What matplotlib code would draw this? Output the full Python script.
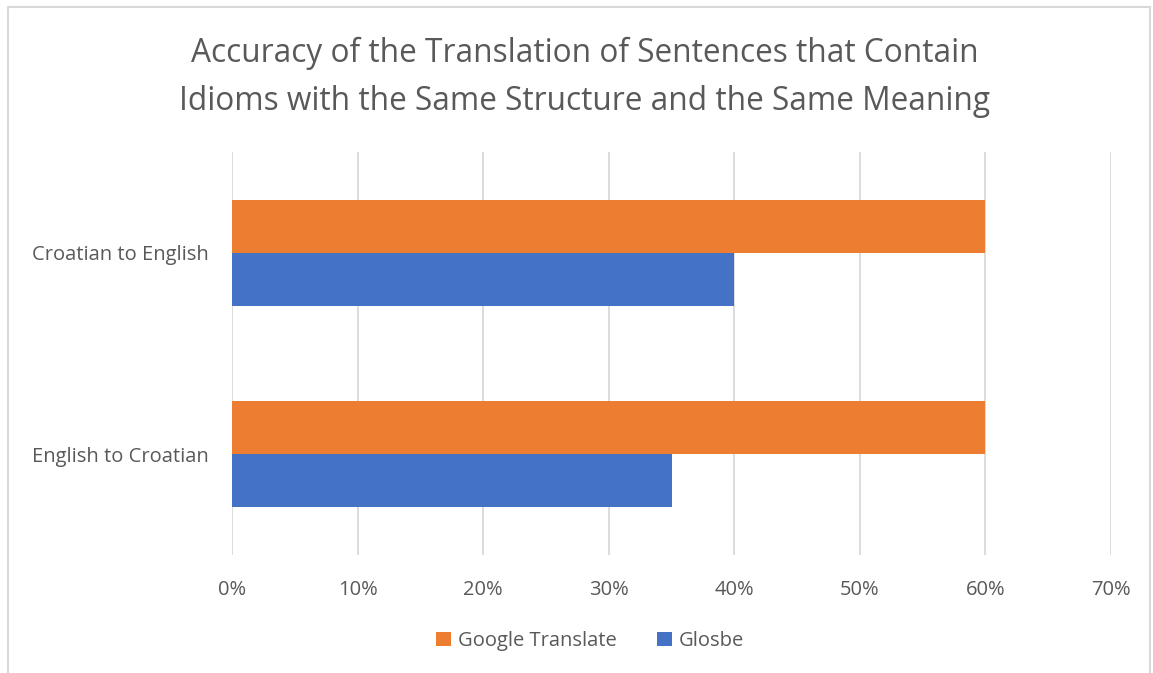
import numpy as np
import matplotlib.pyplot as plt
from matplotlib.patches import Rectangle

categories = ["English to Croatian", "Croatian to English"]
google = [60, 60]
glosbe = [35, 40]
series_names = ["Google Translate", "Glosbe"]

plt.rcParams['font.family'] = ['Open Sans', 'DejaVu Sans']
gray = "#595959"

fig = plt.figure(figsize=(11.53, 6.73), dpi=100)
ax = fig.add_axes([232/1153, 1-555/673, (1111-232)/1153, (555-152)/673])

y = np.arange(len(categories))
h = 0.263
ax.barh(y + h/2, google, height=h, color="#ED7D31", label=series_names[0], zorder=3)
ax.barh(y - h/2, glosbe, height=h, color="#4472C4", label=series_names[1], zorder=3)

ax.set_xlim(0, 70)
ax.set_ylim(-0.5, 1.5)
ax.set_xticks(np.arange(0, 71, 10))
ax.set_xticklabels([f"{v}%" for v in range(0, 71, 10)])
ax.set_yticks(y)
ax.set_yticklabels(categories)
ax.grid(axis="x", color="#d9d9d9", linewidth=1.3, zorder=0)
for s in ax.spines.values():
    s.set_visible(False)
ax.tick_params(length=0, labelsize=14.5, colors=gray)
ax.tick_params(axis="x", pad=18)
ax.tick_params(axis="y", pad=17)

fig.text(0.507, 1 - 77/673, "Accuracy of the Translation of Sentences that Contain\nIdioms with the Same Structure and the Same Meaning",
         ha="center", va="center", fontsize=22.8, color=gray, linespacing=1.6)

fig.legend(loc="center", bbox_to_anchor=(590/1153, 1-641/673), ncol=2, frameon=False,
           fontsize=14.5, labelcolor=gray, handlelength=0.75, handleheight=0.75,
           handletextpad=0.35, columnspacing=2.0)

fig.patches.append(Rectangle((8/1153, -0.01), 1142/1153, 1 - 7/673 + 0.01,
                             transform=fig.transFigure, fill=False,
                             edgecolor="#d9d9d9", linewidth=1.5))

fig.savefig("out.png", dpi=100)
